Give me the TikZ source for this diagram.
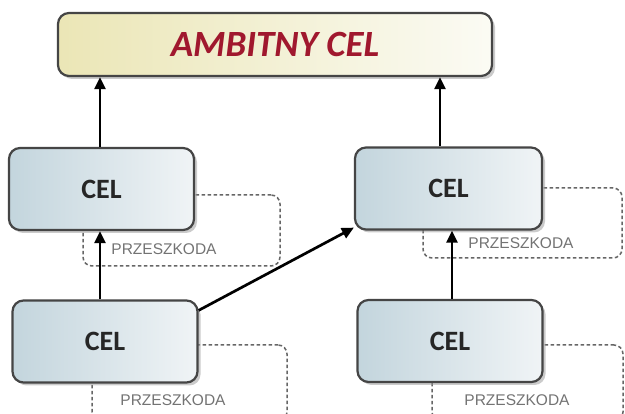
\documentclass[tikz,border=0pt]{standalone}
\usepackage{fontspec}
\setmainfont{Carlito}
\newfontfamily\przfont{Liberation Sans}
\usetikzlibrary{arrows.meta,shadows}
\definecolor{ambred}{HTML}{A0182E}
\definecolor{boxedge}{HTML}{454545}
\definecolor{celL}{HTML}{C3D5DD}
\definecolor{celR}{HTML}{F0F4F6}
\definecolor{topL}{HTML}{EBE6B6}
\definecolor{topR}{HTML}{FBFBF4}
\tikzset{
  x=1pt, y=-1pt,
  topbox/.style={rectangle, rounded corners=11pt, draw=boxedge, line width=2.2pt,
    left color=topL, right color=topR, minimum width=434pt, minimum height=63pt,
    drop shadow={shadow xshift=3pt, shadow yshift=-3pt, fill=black!40},
    font=\fontsize{37}{40}\selectfont\bfseries\itshape, text=ambred},
  celbox/.style={rectangle, rounded corners=11pt, draw=boxedge, line width=2.2pt,
    left color=celL, right color=celR, minimum width=185pt, minimum height=82pt,
    drop shadow={shadow xshift=3pt, shadow yshift=-3pt, fill=black!40},
    font=\fontsize{28}{30}\selectfont\bfseries, text=black!85},
  dashbox/.style={rectangle, rounded corners=9pt, draw=black!60, line width=1.5pt,
    dash pattern=on 3.5pt off 2.5pt},
  prz/.style={font=\przfont\fontsize{15.5}{17}\selectfont, text=black!55, inner sep=0pt},
  conn/.style={line width=2.7pt, black, -{Triangle[length=12pt,width=11pt]}}
}
\begin{document}
\begin{tikzpicture}
\useasboundingbox (0,0) rectangle (625,414);
\clip (0,0) rectangle (625,414);
\fill[white] (0,0) rectangle (625,414);
% dashed obstacle boxes
\node[dashbox, minimum width=197pt, minimum height=71pt] (d1) at (181.5,230.5) {};
\node[dashbox, minimum width=199pt, minimum height=70pt] (d2) at (522.5,223) {};
\node[dashbox, minimum width=195pt, minimum height=76pt] (d3) at (189.5,383) {};
\node[dashbox, minimum width=191pt, minimum height=76pt] (d4) at (527.5,383) {};
\node[prz] (p1) at (164,249) {PRZESZKODA};
\node[prz] (p2) at (521,243) {PRZESZKODA};
\node[prz] (p3) at (173,400) {PRZESZKODA};
\node[prz] (p4) at (517,400) {PRZESZKODA};
% boxes
\node[topbox] (top) at (275,44.5) {AMBITNY CEL\hspace{6pt}};
\node[celbox] (m1) at (101.5,189) {CEL\hspace{20pt}};
\node[celbox, minimum width=187pt] (m2) at (448.5,188.5) {CEL\hspace{17pt}};
\node[celbox] (b1) at (105,341.5) {CEL\hspace{26pt}};
\node[celbox] (b2) at (450,341) {CEL\hspace{20pt}};
% connectors
\draw[conn] ([xshift=-1.5pt]m1.north) -- ([xshift=-1.5pt]m1.north |- top.south);
\draw[conn] ([xshift=-8.5pt]m2.north) -- ([xshift=-8.5pt]m2.north |- top.south);
\draw[conn] ([xshift=-1.5pt]m1.south |- b1.north) -- ([xshift=-1.5pt]m1.south);
\draw[conn] ([xshift=2pt]b2.north) -- ([xshift=2pt]b2.north |- m2.south);
\draw[conn] ([yshift=-11pt]b1.north east) -- ([yshift=3pt]m2.south west);
\end{tikzpicture}
\end{document}
